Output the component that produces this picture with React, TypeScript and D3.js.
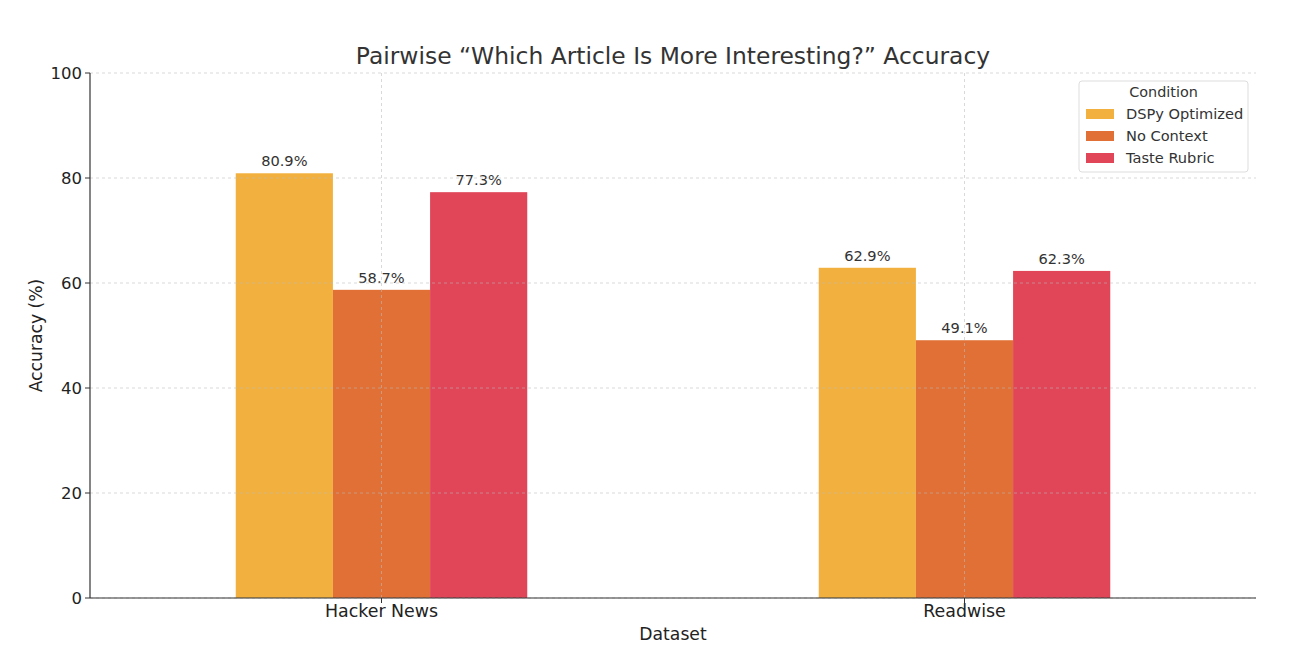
import React from "react";
import * as d3 from "d3";

const categories = ["Hacker News", "Readwise"];
const conditions = ["DSPy Optimized", "No Context", "Taste Rubric"];
const dspyValues = [80.9, 62.9];
const noContextValues = [58.7, 49.1];
const tasteRubricValues = [77.3, 62.3];
const yTicks = [0, 20, 40, 60, 80, 100];
const colors = ["#F2B13F", "#E07036", "#E04558"];

const W = 1296, H = 662;
const M = { left: 90, right: 1256, top: 73, bottom: 598 };
const FONT = "DejaVu Sans, sans-serif";

export default function App() {
  const series = [dspyValues, noContextValues, tasteRubricValues];
  const x = d3.scaleLinear().domain([-0.5, categories.length - 0.5]).range([M.left, M.right]);
  const y = d3.scaleLinear().domain([0, 100]).range([M.bottom, M.top]);
  const groupW = 0.5;
  const barW = groupW / conditions.length;

  return (
    <svg width={W} height={H} style={{ position: "absolute", left: 0, top: 0, background: "#fff" }} fontFamily={FONT}>
      {series.map((vals, si) =>
        vals.map((v, ci) => {
          const x0 = x(ci - groupW / 2 + si * barW);
          const x1 = x(ci - groupW / 2 + (si + 1) * barW);
          return (
            <g key={`${si}-${ci}`}>
              <rect x={x0} y={y(v)} width={x1 - x0} height={y(0) - y(v)} fill={colors[si]} />
              <text x={(x0 + x1) / 2} y={y(v) - 7} textAnchor="middle" fontSize={14.6} fill="#333">
                {v.toFixed(1)}%
              </text>
            </g>
          );
        })
      )}
      {yTicks.map((t) => (
        <line key={"gy" + t} x1={M.left} x2={M.right} y1={y(t)} y2={y(t)} stroke="#bbb" strokeWidth={0.8} strokeDasharray="3,3" opacity={0.7} />
      ))}
      {categories.map((c, i) => (
        <line key={"gx" + c} x1={x(i)} x2={x(i)} y1={M.top} y2={M.bottom} stroke="#bbb" strokeWidth={0.8} strokeDasharray="3,3" opacity={0.7} />
      ))}
      <line x1={M.left} x2={M.left} y1={M.top} y2={M.bottom} stroke="#333" strokeWidth={1.2} />
      <line x1={M.left} x2={M.right} y1={M.bottom} y2={M.bottom} stroke="#333" strokeWidth={1.2} />
      {yTicks.map((t) => (
        <g key={"ty" + t}>
          <line x1={M.left - 5} x2={M.left} y1={y(t)} y2={y(t)} stroke="#333" />
          <text x={M.left - 8} y={y(t)} dy="0.35em" textAnchor="end" fontSize={16.5} fill="#222">{t}</text>
        </g>
      ))}
      {categories.map((c, i) => (
        <g key={"tx" + c}>
          <line x1={x(i)} x2={x(i)} y1={M.bottom} y2={M.bottom + 5} stroke="#333" />
          <text x={x(i)} y={M.bottom + 19} textAnchor="middle" fontSize={17.4} fill="#222">{c}</text>
        </g>
      ))}
      <text x={(M.left + M.right) / 2} y={640} textAnchor="middle" fontSize={17.2} fill="#222">Dataset</text>
      <text transform={`translate(42,${(M.top + M.bottom) / 2}) rotate(-90)`} textAnchor="middle" fontSize={17.2} fill="#222">Accuracy (%)</text>
      <text x={(M.left + M.right) / 2} y={64} textAnchor="middle" fontSize={23.4} fill="#333">
        Pairwise “Which Article Is More Interesting?” Accuracy
      </text>
      <g>
        <rect x={1079} y={81} width={169} height={91} rx={3} fill="#fff" fillOpacity={0.85} stroke="#ddd" />
        <text x={1163.5} y={97} textAnchor="middle" fontSize={14.4} fill="#333">Condition</text>
        {conditions.map((c, i) => (
          <g key={c}>
            <rect x={1086} y={109 + i * 22} width={28} height={10} fill={colors[i]} />
            <text x={1126} y={114 + i * 22} dy="0.35em" fontSize={14.6} fill="#333">{c}</text>
          </g>
        ))}
      </g>
    </svg>
  );
}
